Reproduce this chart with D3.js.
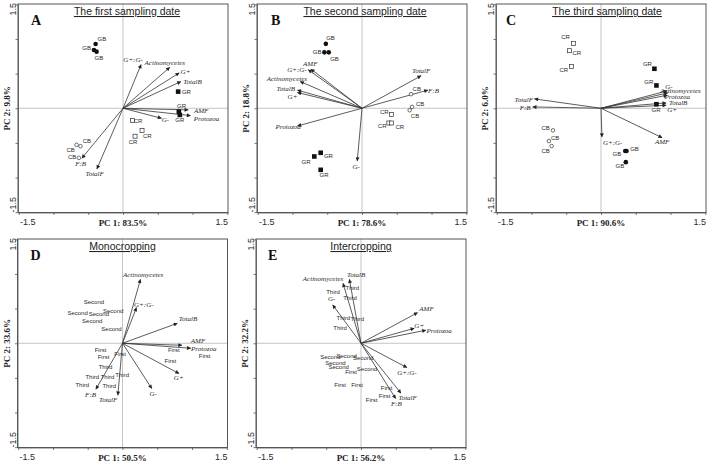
<!DOCTYPE html>
<html><head><meta charset="utf-8">
<script src="https://cdn.jsdelivr.net/npm/d3@7"></script>
<style>body{margin:0;background:#fff}</style>
</head><body><svg id="c" width="711" height="464"></svg>
<script>
// ---------- DATA ----------
const axisTicks = [-1.5, -1, -0.5, 0, 0.5, 1, 1.5];
const tickLabels = ["-1.5", "1.5"];
const panelLetters = ["A", "B", "C", "D", "E"];
const panelTitles = ["The first sampling date", "The second sampling date", "The third sampling date", "Monocropping", "Intercropping"];
const pc1Labels = ["PC 1: 83.5%", "PC 1: 78.6%", "PC 1: 90.6%", "PC 1: 50.5%", "PC 1: 56.2%"];
const pc2Labels = ["PC 2: 9.8%", "PC 2: 18.8%", "PC 2: 6.0%", "PC 2: 33.6%", "PC 2: 32.2%"];

// Panel A
const varsA = ["G+:G-", "Actinomycetes", "G+", "TotalB", "AMF", "Protozoa", "G-", "F:B", "TotalF"];
const varXA = [0.26, 0.673, 0.808, 0.832, 0.938, 0.971, 0.553, -0.591, -0.375];
const varYA = [0.63, 0.591, 0.51, 0.385, -0.024, -0.106, -0.144, -0.721, -0.875];
const sampA = ["GB", "GB", "GB", "GR", "GR", "GR", "CR", "CR", "CR", "CB", "CB", "CB"];
const sampXA = [-0.394, -0.418, -0.38, 0.793, 0.803, 0.817, 0.135, 0.274, 0.173, -0.668, -0.611, -0.635];
const sampYA = [0.928, 0.841, 0.817, 0.24, -0.048, -0.096, -0.178, -0.322, -0.404, -0.529, -0.548, -0.716];

// Panel B
const varsB = ["AMF", "G+:G-", "Actinomycetes", "TotalB", "G+", "Protozoa", "G-", "TotalF", "F:B"];
const varXB = [-0.734, -0.773, -0.889, -0.928, -0.928, -0.928, -0.068, 0.85, 0.947];
const varYB = [0.565, 0.556, 0.386, 0.261, 0.227, -0.256, -0.761, 0.469, 0.261];
const sampB = ["GB", "GB", "GB", "GR", "GR", "GR", "CR", "CR", "CR", "CB", "CB", "CB"];
const sampXB = [-0.52, -0.541, -0.478, -0.594, -0.686, -0.594, 0.425, 0.386, 0.425, 0.705, 0.72, 0.686];
const sampYB = [0.93, 0.807, 0.807, -0.643, -0.696, -0.889, -0.092, -0.213, -0.213, 0.203, 0.019, -0.029];

// Panel C
const varsC = ["TotalF", "F:B", "G+:G-", "AMF", "G-", "Actinomycetes", "Protozoa", "TotalB", "G+"];
const varXC = [-0.957, -0.981, 0.014, 0.879, 0.952, 0.961, 0.952, 0.937, 0.937];
const varYC = [0.135, 0.019, -0.415, -0.425, 0.251, 0.222, 0.188, 0.077, 0.043];
const sampC = ["CR", "CR", "CR", "GR", "GR", "GR", "CB", "CB", "CB", "GB", "GB", "GB"];
const sampXC = [-0.396, -0.454, -0.425, 0.768, 0.797, 0.797, -0.691, -0.749, -0.71, 0.348, 0.367, 0.357];
const sampYC = [0.937, 0.831, 0.604, 0.57, 0.329, 0.058, -0.319, -0.473, -0.546, -0.618, -0.618, -0.778];

// Panel D
const varsD = ["Actinomycetes", "G+:G-", "TotalB", "AMF", "Protozoa", "G+", "G-", "TotalF", "F:B"];
const varXD = [0.258, 0.201, 0.789, 0.856, 0.981, 0.813, 0.421, -0.067, -0.383];
const varYD = [0.923, 0.514, 0.288, -0.029, -0.072, -0.438, -0.654, -0.75, -0.663];
const sampD = ["Second", "Second", "Second", "Second", "Second", "Second", "First", "First", "First", "First", "First", "First", "Third", "Third", "Third", "Third", "Third", "Third"];
const sampXD = [-0.411, -0.646, -0.34, -0.134, -0.435, -0.158, -0.316, -0.273, -0.033, 0.737, 0.689, 1.182, -0.244, -0.435, -0.215, -0.579, -0.191, -0.005];
const sampYD = [0.596, 0.433, 0.418, 0.466, 0.322, 0.212, -0.096, -0.197, -0.149, -0.101, -0.255, -0.183, -0.337, -0.486, -0.49, -0.596, -0.611, -0.462];

// Panel E
const varsE = ["Actinomycetes", "TotalB", "G-", "AMF", "G+", "Protozoa", "G+:G-", "TotalF", "F:B"];
const varXE = [-0.258, -0.167, -0.407, 0.813, 0.766, 0.933, 0.66, 0.574, 0.498];
const varYE = [0.865, 0.923, 0.553, 0.442, 0.216, 0.188, -0.351, -0.721, -0.798];
const sampE = ["Third", "Third", "Third", "Third", "Third", "Third", "Second", "Second", "Second", "Second", "Second", "Second", "First", "First", "First", "First", "First", "First"];
const sampXE = [-0.402, -0.124, -0.158, -0.254, -0.053, -0.301, -0.44, -0.206, 0.033, -0.368, -0.321, 0.086, -0.144, -0.301, -0.057, 0.368, 0.34, 0.153];
const sampYE = [0.745, 0.793, 0.649, 0.37, 0.346, 0.216, -0.197, -0.183, -0.216, -0.288, -0.337, -0.375, -0.409, -0.596, -0.596, -0.644, -0.764, -0.813];

// ---------- LAYOUT (label nudges in px, not data) ----------
const nudgeVarA = [[-8,-4.7],[-5,-4.3],[6.3,-1.3],[11.7,0],[13,0.7],[16,3.3],[4,1.3],[-1.3,5.7],[-2.3,5]];
const nudgeSampA = [[6.3,-5],[-7.3,-1.7],[2.3,6.3],[8.3,0],[2.7,-6],[0,5],[5.7,0],[5.3,5],[-2,6],[-6,5],[6.3,-5],[-6.7,-0.7]];
const nudgeVarB = [[-0.7,-5.7],[-11.3,0.3],[-13.3,-3],[-11.7,-2],[-5,4],[-9.3,0.7],[-1,5.7],[0,-5],[5.7,0.7]];
const nudgeSampB = [[4.7,-6],[-7.3,-0.7],[5.7,6.7],[7.7,2.7],[-8.3,5.7],[3.3,5.3],[-7.3,-3],[-6.7,3],[8.3,4],[5.7,-5],[8,-3.3],[5.3,5.7]];
const nudgeVarC = [[-10.7,0.3],[-7.7,0.7],[10.7,6],[0,4.3],[1.7,-4.7],[12.7,-2.7],[10,1],[12,-0.3],[6,4]];
const nudgeSampC = [[-8,-6],[7.3,2],[-7.7,3.7],[-7,-4.7],[-7.7,-3.7],[-0.3,6],[-7.3,-2.3],[6.3,-2.7],[-6,5.3],[-8.3,3.3],[8,-2.3],[-6,4]];
const nudgeVarD = [[2.7,-5],[7.3,-2.7],[10.7,-5],[16,-5],[13,0],[-0.3,4],[1.3,5],[-9.7,4],[-5.3,5]];
const nudgeVarE = [[-20,-4.7],[6.7,-5],[-1,-6.7],[9,-4],[5,-2.3],[13.3,0.7],[0,5],[6.7,4.3],[0.7,5.3]];

const panels = [
  {left:18, top:4, vars:varsA, vx:varXA, vy:varYA, samp:sampA, sx:sampXA, sy:sampYA, nv:nudgeVarA, ns:nudgeSampA, markers:true, tdx:4, ldx:13},
  {left:257, top:4, vars:varsB, vx:varXB, vy:varYB, samp:sampB, sx:sampXB, sy:sampYB, nv:nudgeVarB, ns:nudgeSampB, markers:true, tdx:3, ldx:14},
  {left:496, top:4, vars:varsC, vx:varXC, vy:varYC, samp:sampC, sx:sampXC, sy:sampYC, nv:nudgeVarC, ns:nudgeSampC, markers:true, tdx:6, ldx:10},
  {left:17.5, top:239, vars:varsD, vx:varXD, vy:varYD, samp:sampD, sx:sampXD, sy:sampYD, nv:nudgeVarD, ns:null, markers:false, tdx:0, ldx:13},
  {left:256, top:239, vars:varsE, vx:varXE, vy:varYE, samp:sampE, sx:sampXE, sy:sampYE, nv:nudgeVarE, ns:null, markers:false, tdx:0, ldx:12}
];
const W = 210, H = 208.5;
const SANS = "'Liberation Sans', Arial, sans-serif";
const SERIF = "'Liberation Serif', 'Times New Roman', serif";
const ink = "#2a2a2a";

const svg = d3.select("#c");
svg.append("defs").append("marker")
  .attr("id", "ah").attr("viewBox", "0 -3 6 6").attr("refX", 5.5).attr("refY", 0)
  .attr("markerWidth", 5.5).attr("markerHeight", 4).attr("markerUnits", "userSpaceOnUse")
  .attr("orient", "auto")
  .append("path").attr("d", "M0,-3L6,0L0,3Z").attr("fill", "#222");

const markerType = {GB: "fcirc", GR: "fsq", CR: "osq", CB: "ocirc"};

panels.forEach((p, i) => {
  const x = d3.scaleLinear().domain([-1.51, 1.51]).range([p.left, p.left + W]);
  const y = d3.scaleLinear().domain([-1.505, 1.505]).range([p.top + H, p.top]);
  const x0 = p.left, x1 = p.left + W, y0 = p.top + H, y1 = p.top;
  const g = svg.append("g");

  // zero lines
  g.append("line").attr("x1", x0).attr("x2", x1).attr("y1", y(0)).attr("y2", y(0))
    .attr("stroke", "#b5b5b5").attr("stroke-width", 0.8);
  g.append("line").attr("x1", x(0)).attr("x2", x(0)).attr("y1", y0).attr("y2", y1)
    .attr("stroke", "#b5b5b5").attr("stroke-width", 0.8);

  // axes (ticks only)
  const xa = g.append("g").attr("transform", `translate(0,${y0})`)
    .call(d3.axisBottom(x).tickValues(axisTicks).tickSize(2.5).tickFormat("").tickSizeOuter(0));
  const ya = g.append("g").attr("transform", `translate(${x0},0)`)
    .call(d3.axisLeft(y).tickValues(axisTicks).tickSize(2.5).tickFormat("").tickSizeOuter(0));
  [xa, ya].forEach(a => { a.selectAll("path,line").attr("stroke", "#555").attr("stroke-width", 0.8); });

  // frame
  g.append("rect").attr("x", x0).attr("y", y1).attr("width", W).attr("height", H)
    .attr("fill", "none").attr("stroke", "#555").attr("stroke-width", 1);

  // tick labels
  g.append("text").attr("x", x0 + 2).attr("y", y0 + 12).attr("text-anchor", "start")
    .attr("font-family", SANS).attr("font-size", 9).attr("fill", ink).text(tickLabels[0]);
  g.append("text").attr("x", x1).attr("y", y0 + 12).attr("text-anchor", "end")
    .attr("font-family", SANS).attr("font-size", 9).attr("fill", ink).text(tickLabels[1]);
  g.append("text").attr("transform", `translate(${x0 - 2},${y1 - 1}) rotate(-90)`).attr("text-anchor", "end")
    .attr("font-family", SANS).attr("font-size", 9).attr("fill", ink).text(tickLabels[1]);
  g.append("text").attr("transform", `translate(${x0 - 2},${y0}) rotate(-90)`).attr("text-anchor", "start")
    .attr("font-family", SANS).attr("font-size", 9).attr("fill", ink).text(tickLabels[0]);

  // axis titles
  g.append("text").attr("x", x(0)).attr("y", y0 + 13).attr("text-anchor", "middle")
    .attr("font-family", SERIF).attr("font-weight", "bold").attr("font-size", 9).attr("fill", "#222").text(pc1Labels[i]);
  g.append("text").attr("transform", `translate(${x0 - 8},${y(0)}) rotate(-90)`).attr("text-anchor", "middle")
    .attr("font-family", SERIF).attr("font-weight", "bold").attr("font-size", 9).attr("fill", "#222").text(pc2Labels[i]);

  // panel title & letter
  g.append("text").attr("x", x(0) + p.tdx).attr("y", y1 + 11).attr("text-anchor", "middle")
    .attr("font-family", SANS).attr("font-size", 10.5).attr("fill", "#222")
    .attr("text-decoration", "underline").text(panelTitles[i]);
  g.append("text").attr("x", x0 + p.ldx).attr("y", y1 + 21).attr("text-anchor", "start")
    .attr("font-family", SERIF).attr("font-weight", "bold").attr("font-size", 14).attr("fill", "#111").text(panelLetters[i]);

  // arrows
  p.vars.forEach((v, k) => {
    g.append("line").attr("x1", x(0)).attr("y1", y(0)).attr("x2", x(p.vx[k])).attr("y2", y(p.vy[k]))
      .attr("stroke", "#333").attr("stroke-width", 0.8).attr("marker-end", "url(#ah)");
    g.append("text").attr("x", x(p.vx[k]) + p.nv[k][0]).attr("y", y(p.vy[k]) + p.nv[k][1])
      .attr("dy", "0.35em").attr("text-anchor", "middle")
      .attr("font-family", SERIF).attr("font-style", "italic").attr("font-size", 7).attr("fill", ink).text(v);
  });

  // samples
  p.samp.forEach((s, k) => {
    const cx = x(p.sx[k]), cy = y(p.sy[k]);
    if (p.markers) {
      const t = markerType[s];
      if (t === "fcirc") g.append("circle").attr("cx", cx).attr("cy", cy).attr("r", 2.3).attr("fill", "#111");
      if (t === "ocirc") g.append("circle").attr("cx", cx).attr("cy", cy).attr("r", 1.8).attr("fill", "#fff").attr("stroke", "#333").attr("stroke-width", 0.7);
      if (t === "fsq") g.append("rect").attr("x", cx - 2.3).attr("y", cy - 2.3).attr("width", 4.6).attr("height", 4.6).attr("fill", "#111");
      if (t === "osq") g.append("rect").attr("x", cx - 2).attr("y", cy - 2).attr("width", 4).attr("height", 4).attr("fill", "#fff").attr("stroke", "#333").attr("stroke-width", 0.7);
      g.append("text").attr("x", cx + p.ns[k][0]).attr("y", cy + p.ns[k][1]).attr("dy", "0.35em")
        .attr("text-anchor", "middle").attr("font-family", SANS).attr("font-size", 6).attr("fill", ink).text(s);
    } else {
      g.append("text").attr("x", cx).attr("y", cy).attr("dy", "0.35em")
        .attr("text-anchor", "middle").attr("font-family", SANS).attr("font-size", 6).attr("fill", ink).text(s);
    }
  });
});
</script></body></html>
